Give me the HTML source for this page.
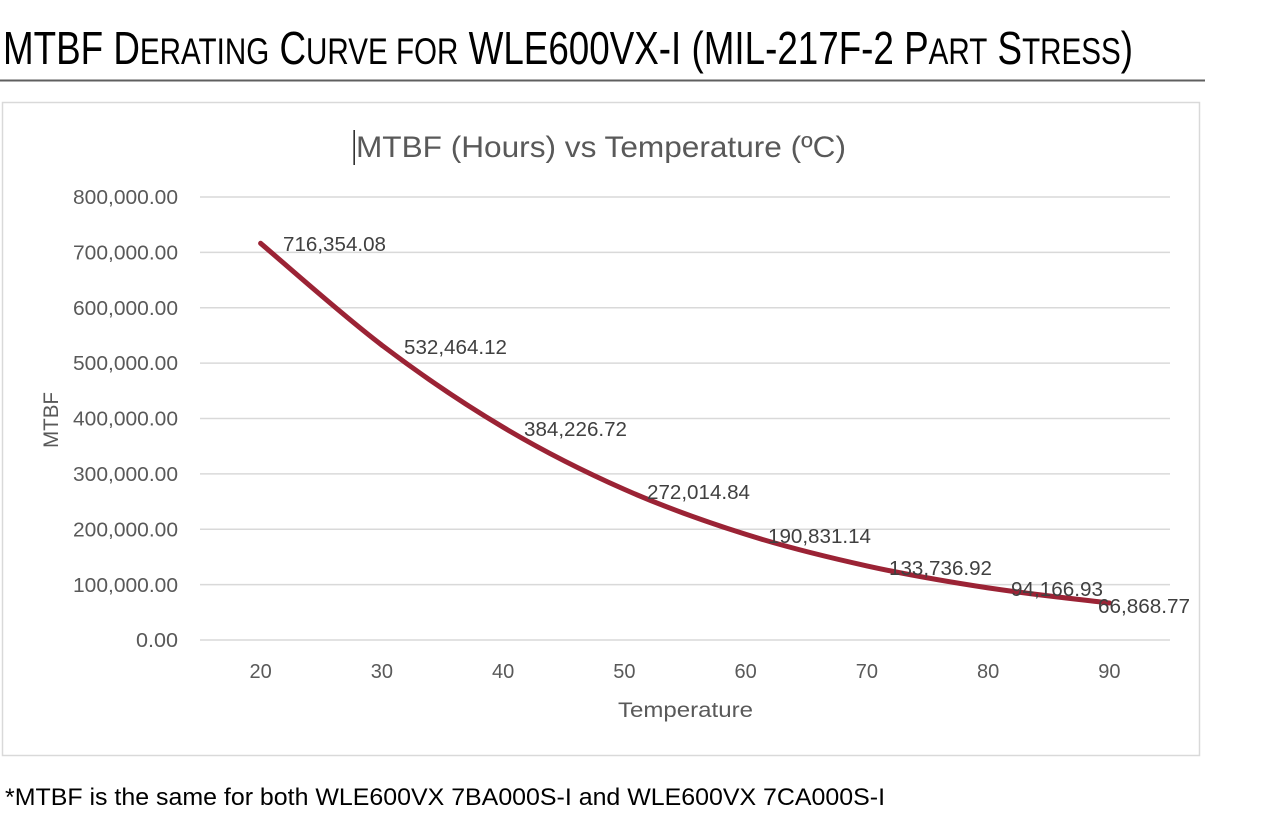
<!DOCTYPE html>
<html>
<head>
<meta charset="utf-8">
<style>
html,body{margin:0;padding:0;background:#fff;}
svg{display:block;}
text{font-family:"Liberation Sans",sans-serif;}
</style>
</head>
<body>
<svg width="1282" height="823" viewBox="0 0 1282 823" xmlns="http://www.w3.org/2000/svg">
  <rect x="0" y="0" width="1282" height="823" fill="#fff"/>
  <!-- Page title -->
  <text x="3" y="64" font-size="46" fill="#000" textLength="1130" lengthAdjust="spacingAndGlyphs">MTBF D<tspan font-size="37">ERATING</tspan> C<tspan font-size="37">URVE FOR</tspan> WLE600VX-I (MIL-217F-2 P<tspan font-size="37">ART</tspan> S<tspan font-size="37">TRESS</tspan>)</text>
  <rect x="0" y="79.5" width="1205" height="2" fill="#5f5f5f"/>

  <!-- Chart frame -->
  <rect x="2.5" y="102.5" width="1197" height="653" fill="#fff" stroke="#d9d9d9" stroke-width="1.5"/>

  <!-- Chart title -->
  <rect x="353.5" y="130" width="1.3" height="35" fill="#000"/>
  <text x="356" y="157" font-size="30" fill="#595959" textLength="490" lengthAdjust="spacingAndGlyphs">MTBF (Hours) vs Temperature (ºC)</text>

  <!-- Gridlines -->
  <g stroke="#d9d9d9" stroke-width="1.5">
    <line x1="200" y1="197" x2="1170" y2="197"/>
    <line x1="200" y1="252.4" x2="1170" y2="252.4"/>
    <line x1="200" y1="307.8" x2="1170" y2="307.8"/>
    <line x1="200" y1="363.1" x2="1170" y2="363.1"/>
    <line x1="200" y1="418.5" x2="1170" y2="418.5"/>
    <line x1="200" y1="473.9" x2="1170" y2="473.9"/>
    <line x1="200" y1="529.3" x2="1170" y2="529.3"/>
    <line x1="200" y1="584.6" x2="1170" y2="584.6"/>
    <line x1="200" y1="640" x2="1170" y2="640"/>
  </g>

  <!-- Y tick labels -->
  <g font-size="20" fill="#595959" text-anchor="end">
    <text x="178" y="204" textLength="105" lengthAdjust="spacingAndGlyphs">800,000.00</text>
    <text x="178" y="259.5" textLength="105" lengthAdjust="spacingAndGlyphs">700,000.00</text>
    <text x="178" y="315" textLength="105" lengthAdjust="spacingAndGlyphs">600,000.00</text>
    <text x="178" y="370" textLength="105" lengthAdjust="spacingAndGlyphs">500,000.00</text>
    <text x="178" y="425.5" textLength="105" lengthAdjust="spacingAndGlyphs">400,000.00</text>
    <text x="178" y="481" textLength="105" lengthAdjust="spacingAndGlyphs">300,000.00</text>
    <text x="178" y="536.5" textLength="105" lengthAdjust="spacingAndGlyphs">200,000.00</text>
    <text x="178" y="592" textLength="105" lengthAdjust="spacingAndGlyphs">100,000.00</text>
    <text x="178" y="647" textLength="42" lengthAdjust="spacingAndGlyphs">0.00</text>
  </g>

  <!-- X tick labels -->
  <g font-size="20" fill="#595959" text-anchor="middle">
    <text x="260.6" y="678">20</text>
    <text x="381.9" y="678">30</text>
    <text x="503.1" y="678">40</text>
    <text x="624.4" y="678">50</text>
    <text x="745.6" y="678">60</text>
    <text x="866.9" y="678">70</text>
    <text x="988.1" y="678">80</text>
    <text x="1109.4" y="678">90</text>
  </g>

  <!-- Axis titles -->
  <text x="685.5" y="717" font-size="21" fill="#595959" text-anchor="middle" textLength="135" lengthAdjust="spacingAndGlyphs">Temperature</text>
  <text transform="translate(58,420) rotate(-90)" font-size="21" fill="#595959" text-anchor="middle" textLength="56" lengthAdjust="spacingAndGlyphs">MTBF</text>

  <!-- Series -->
  <path d="M260.6,243.3 C280.8,260.3 341.5,314.55 381.9,345.2 C422.3,375.85 462.7,403.17 503.1,427.2 C543.5,451.23 584.0,471.55 624.4,489.4 C664.8,507.25 705.2,521.55 745.6,534.3 C786.0,547.05 826.5,556.97 866.9,565.9 C907.3,574.83 947.7,581.72 988.1,587.9 C1028.5,594.08 1089.2,600.48 1109.4,603.0"
        fill="none" stroke="#9b2335" stroke-width="5" stroke-linecap="round" stroke-linejoin="round"/>

  <!-- Data labels -->
  <g font-size="20" fill="#404040">
    <text x="283" y="251" textLength="103" lengthAdjust="spacingAndGlyphs">716,354.08</text>
    <text x="404" y="354" textLength="103" lengthAdjust="spacingAndGlyphs">532,464.12</text>
    <text x="524" y="436" textLength="103" lengthAdjust="spacingAndGlyphs">384,226.72</text>
    <text x="647" y="499" textLength="103" lengthAdjust="spacingAndGlyphs">272,014.84</text>
    <text x="768" y="543" textLength="103" lengthAdjust="spacingAndGlyphs">190,831.14</text>
    <text x="889" y="575" textLength="103" lengthAdjust="spacingAndGlyphs">133,736.92</text>
    <text x="1011" y="596" textLength="92" lengthAdjust="spacingAndGlyphs">94,166.93</text>
    <text x="1098" y="613" textLength="92" lengthAdjust="spacingAndGlyphs">66,868.77</text>
  </g>

  <!-- Footnote -->
  <text x="5" y="805" font-size="24" fill="#000" textLength="880" lengthAdjust="spacingAndGlyphs">*MTBF is the same for both WLE600VX 7BA000S-I and WLE600VX 7CA000S-I</text>
</svg>
</body>
</html>
